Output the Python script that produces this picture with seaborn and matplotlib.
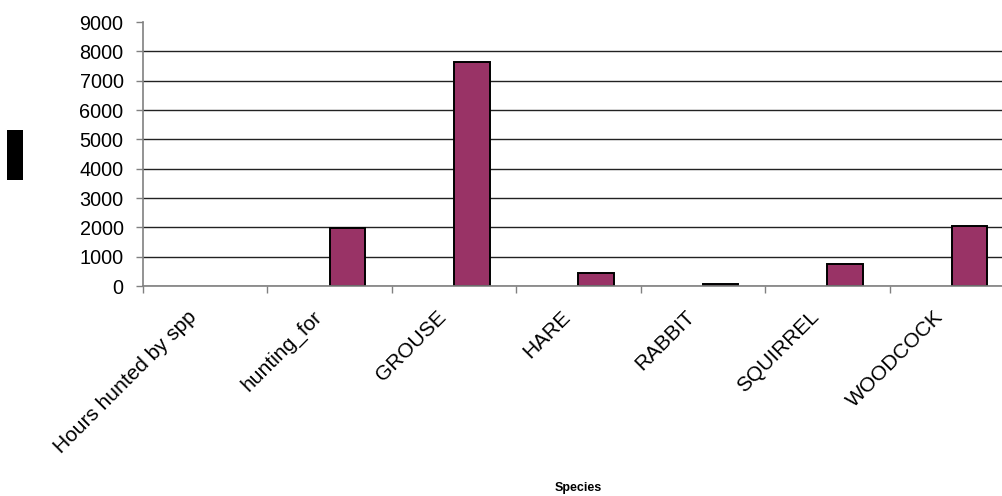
import matplotlib
matplotlib.use("Agg")
import matplotlib.pyplot as plt
from matplotlib.patches import Rectangle
from matplotlib.ticker import FixedLocator
from matplotlib.transforms import ScaledTranslation
import pandas as pd
import seaborn as sns

# Hours hunted, by species
categories = ["Hours hunted by spp", "hunting_for", "GROUSE", "HARE",
              "RABBIT", "SQUIRREL", "WOODCOCK"]
hours = [None, 1980, 7640, 430, 70, 760, 2050]
series_order = ["blank", "Total"]
y_ticks = list(range(0, 9001, 1000))

rows = [{"Species": c, "Hours": h, "Series": "Total"}
        for c, h in zip(categories, hours) if h is not None]
df = pd.DataFrame(rows)

sns.set_theme(style="white")
plt.rcParams["font.family"] = ["Liberation Sans", "DejaVu Sans"]

fig = plt.figure(figsize=(10.03, 4.96), dpi=100)
ax = fig.add_axes([143 / 1003, 1 - 286 / 496, (1014 - 143) / 1003, (286 - 22) / 496])

sns.barplot(data=df, x="Species", y="Hours", hue="Series",
            order=categories, hue_order=series_order,
            palette={"blank": "#ffffff", "Total": "#993366"},
            width=0.57, gap=0, dodge=True, legend=False,
            edgecolor="black", linewidth=1.4, saturation=1, ax=ax)

ax.set_xlim(-0.5, len(categories) - 0.5)
ax.set_ylim(0, 9000)
ax.set_yticks(y_ticks)
ax.set_yticklabels([str(t) for t in y_ticks])
ax.set_xlabel("")
ax.set_ylabel("")

# horizontal gridlines, none at the top of the plot area
ax.yaxis.grid(True, color="#222222", linewidth=1.0)
ax.set_axisbelow(True)
ax.get_ygridlines()[-1].set_visible(False)

for side in ("top", "right"):
    ax.spines[side].set_visible(False)
for side in ("left", "bottom"):
    ax.spines[side].set_color("#808080")
    ax.spines[side].set_linewidth(1.2)

ax.tick_params(axis="y", which="major", left=True, length=5, width=1,
               color="#808080", labelsize=14.3, pad=9, labelcolor="black")
ax.xaxis.set_minor_locator(FixedLocator([i - 0.5 for i in range(len(categories) + 1)]))
ax.tick_params(axis="x", which="minor", bottom=True, length=5, width=1, color="#808080")
ax.tick_params(axis="x", which="major", bottom=False, length=0, labelsize=15,
               pad=11, labelcolor="black")
shift = ScaledTranslation(-0.18, -0.06, fig.dpi_scale_trans)
for lab in ax.get_xticklabels():
    lab.set_rotation(45)
    lab.set_ha("right")
    lab.set_va("top")
    lab.set_rotation_mode("anchor")
    lab.set_transform(lab.get_transform() + shift)

fig.text((143 + 1014) / 2 / 1003, 8 / 496, "Species", ha="center", va="center",
         fontsize=9, fontweight="bold", color="black")

# axis-title placeholder block at the left edge
fig.patches.append(Rectangle((7 / 1003, 1 - 180 / 496), 16 / 1003, 50 / 496,
                             transform=fig.transFigure, facecolor="black",
                             edgecolor="none"))

fig.savefig("out.png", dpi=100)
